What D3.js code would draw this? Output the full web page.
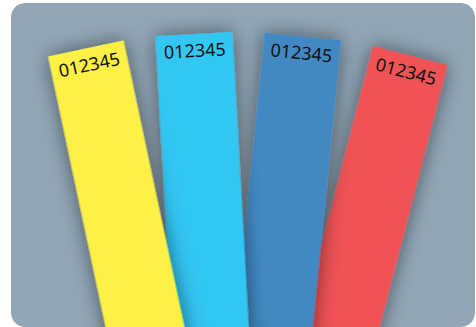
<!DOCTYPE html>
<html>
<head>
<meta charset="utf-8">
<script src="https://cdn.jsdelivr.net/npm/d3@7"></script>
<style>
	html, body { margin: 0; padding: 0; background: #fff; }
	svg { display: block; }
</style>
</head>
<body>
<script>
(function () {
	"use strict";

	var w = 476;
	var h = 327;

	// cards, left to right
	var keys = ["yellow", "cyan", "blue", "red"];
	var labels = ["012345", "012345", "012345", "012345"];
	var colors = ["#fef045", "#31c6f2", "#4389c3", "#ef5256"];

	var pivot = { x: 233, y: 741 };
	var radius = 708;
	var cardW = 77;

	var svg = d3.select("body")
		.append("svg")
		.attr("width", w)
		.attr("height", h);

	var defs = svg.append("defs");

	defs.append("clipPath")
		.attr("id", "frame")
		.append("rect")
		.attr("x", 11).attr("y", 3)
		.attr("width", 464).attr("height", 324)
		.attr("rx", 14).attr("ry", 14);

	defs.append("filter")
		.attr("id", "shadow")
		.attr("x", "-50%").attr("y", "-50%")
		.attr("width", "200%").attr("height", "200%")
		.append("feDropShadow")
		.attr("dx", 0).attr("dy", 0)
		.attr("stdDeviation", 10)
		.attr("flood-color", "#000")
		.attr("flood-opacity", 0.5);

	var frame = svg.append("g").attr("clip-path", "url(#frame)");

	frame.append("rect")
		.attr("x", 11).attr("y", 3)
		.attr("width", 464).attr("height", 324)
		.attr("rx", 14).attr("ry", 14)
		.attr("fill", "#92a6b6");

	// Scales
	var angleScale = d3.scalePoint()
		.domain(keys)
		.range([-12, 14.5]);

	var colorScale = d3.scaleOrdinal()
		.domain(keys)
		.range(colors);

	var ds = keys.map(function (k, i) {
		return { key: k, label: labels[i] };
	});

	// right-most card sits at the back
	var card = frame.selectAll("g.card")
		.data(ds.slice().reverse())
		.enter()
		.append("g")
		.attr("class", "card")
		.attr("transform", (d) => "translate(" + pivot.x + "," + pivot.y + ") rotate(" + angleScale(d.key) + ")");

	card.append("rect")
		.attr("x", -cardW / 2)
		.attr("y", -radius)
		.attr("width", cardW)
		.attr("height", radius)
		.attr("fill", (d) => colorScale(d.key))
		.attr("filter", "url(#shadow)");

	card.append("text")
		.attr("x", 0)
		.attr("y", -radius + 23)
		.attr("text-anchor", "middle")
		.attr("font-family", "'Noto Sans', sans-serif")
		.attr("font-size", 18)
		.attr("fill", "#111")
		.text((d) => d.label);
})();
</script>
</body>
</html>
